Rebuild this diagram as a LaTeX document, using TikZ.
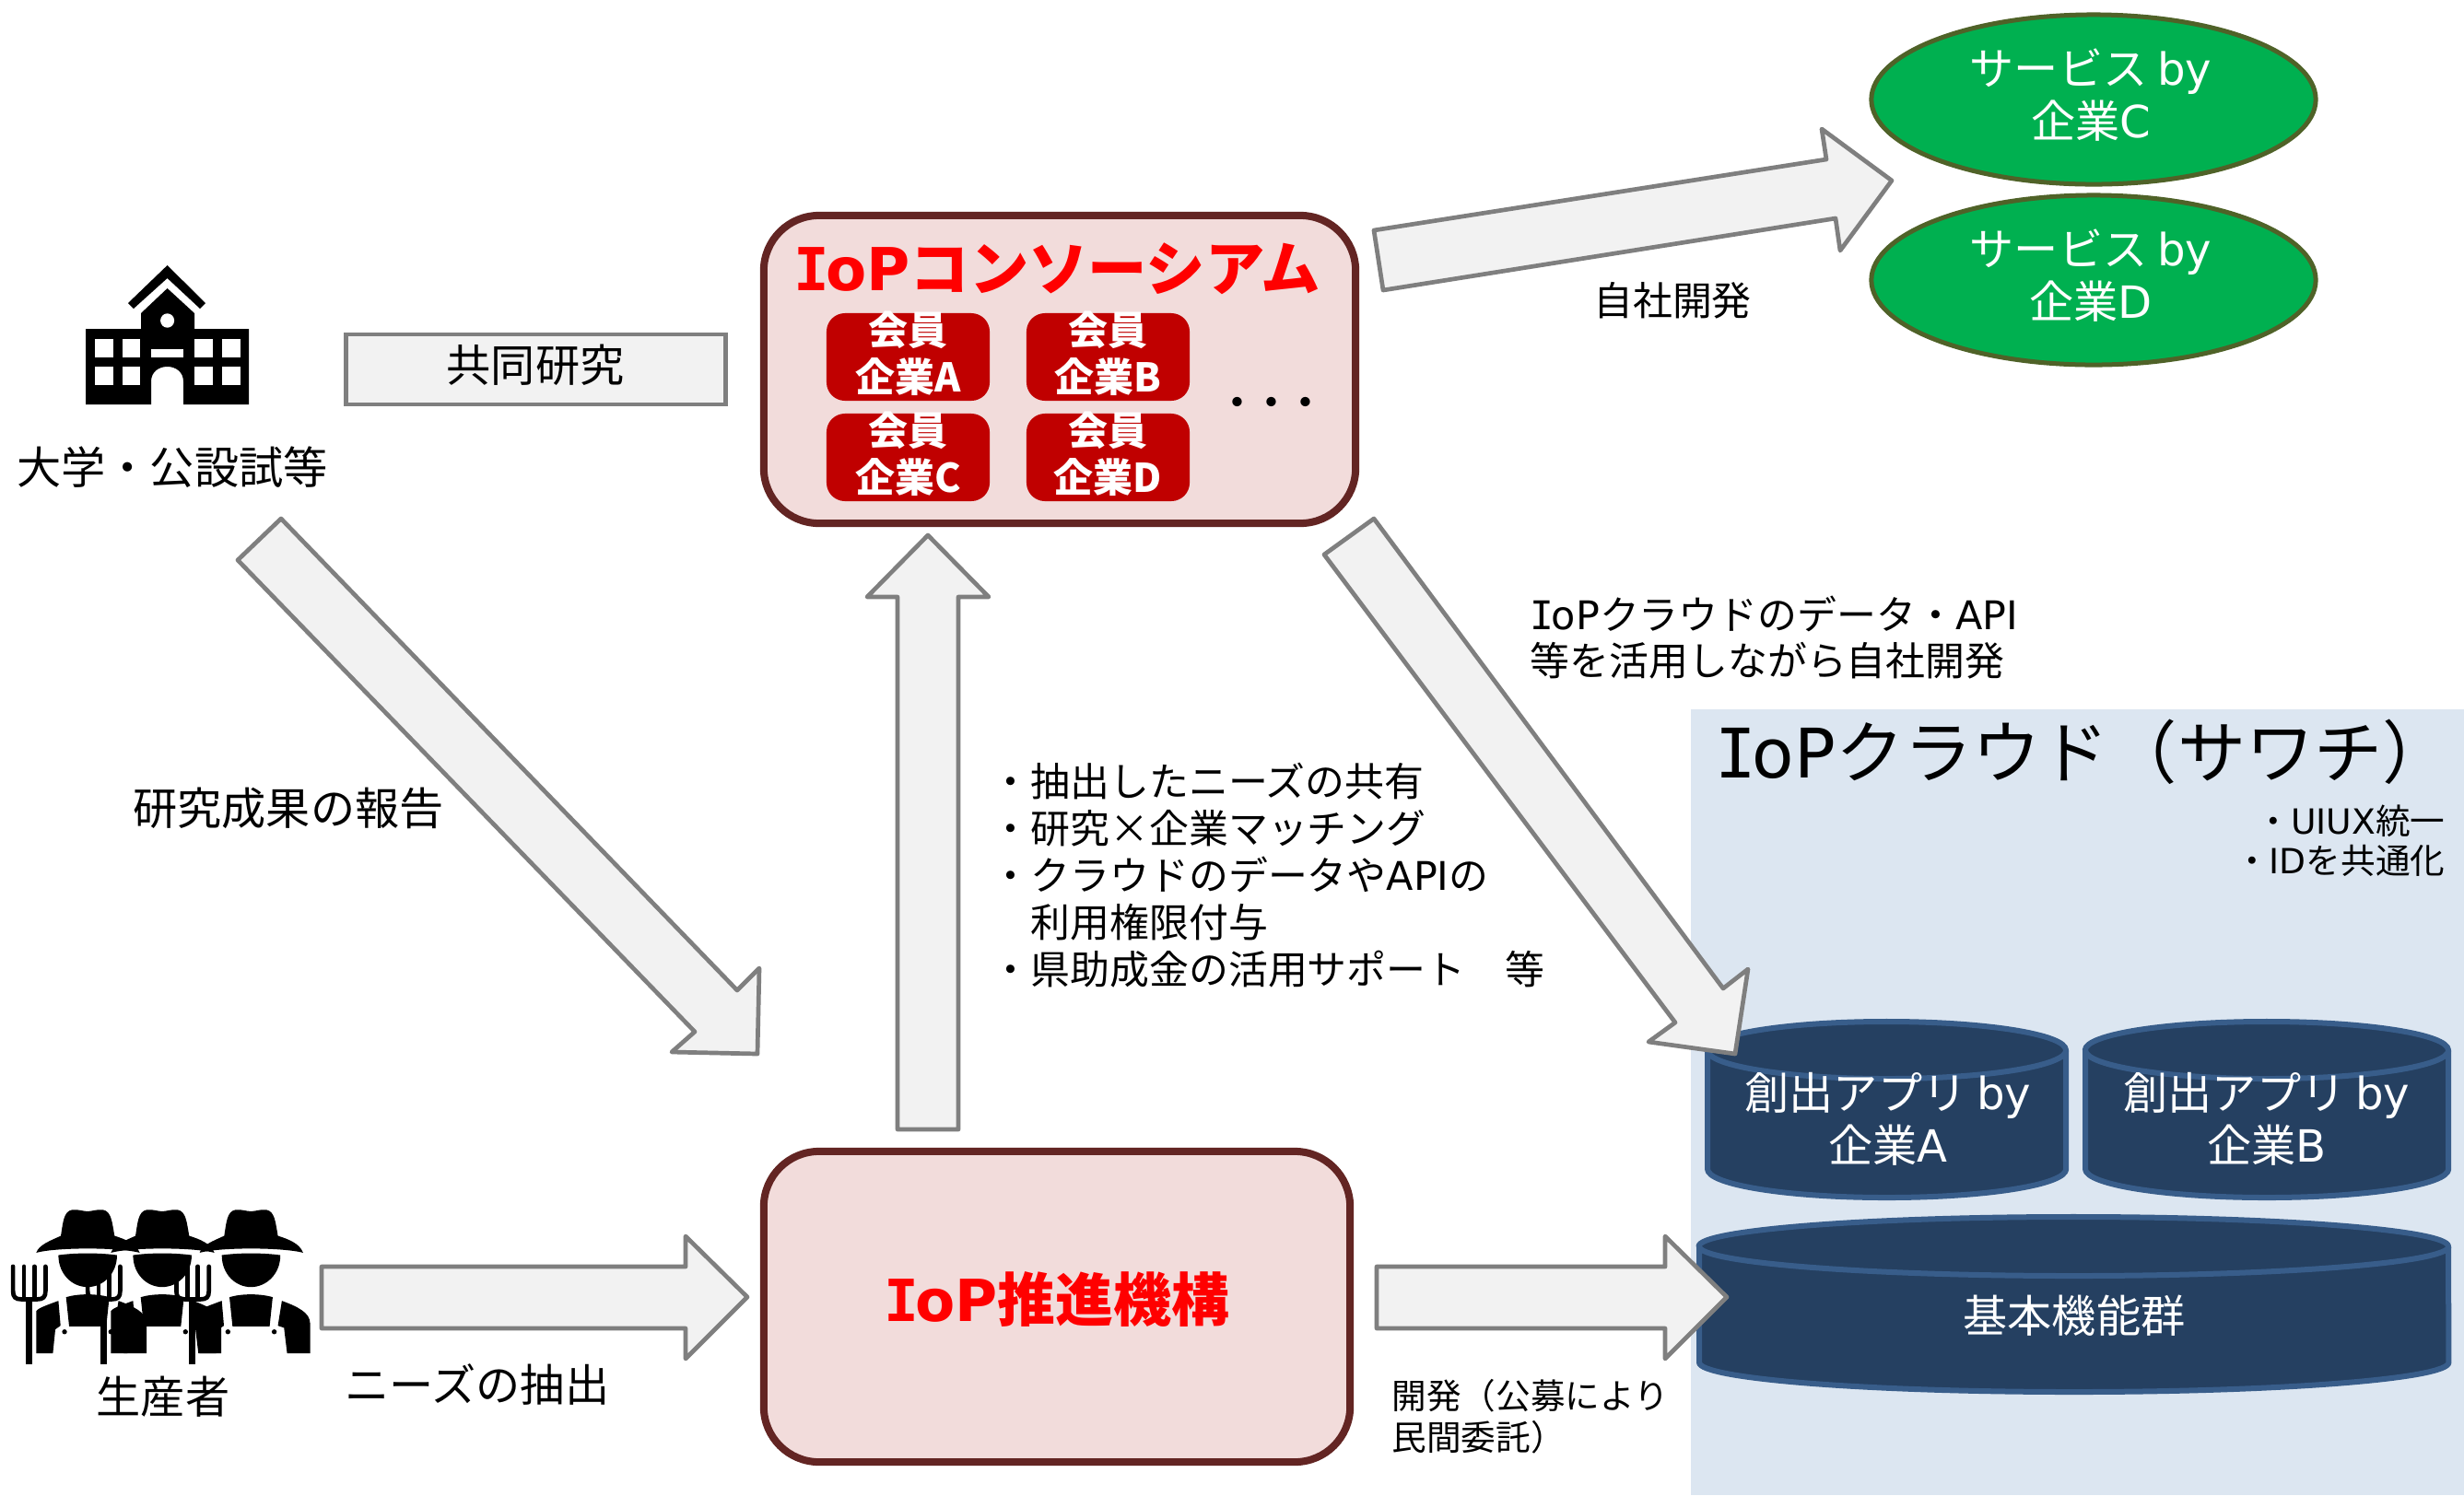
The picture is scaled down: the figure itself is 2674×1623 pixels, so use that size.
\documentclass[tikz,border=0pt]{standalone}
\usepackage{fontspec}
\usetikzlibrary{shapes.geometric}
\setmainfont{Noto Sans CJK JP}
\newfontfamily\latfont{DejaVu Sans}
\newfontfamily\monofont{DejaVu Sans Mono}
\newcommand{\lat}[1]{{\latfont #1}}
\newcommand{\IoPx}{{\monofont I\kern-0.06em}{\latfont oP}}
\newcommand{\fs}[2]{\fontsize{#1pt}{#2pt}\selectfont}
\definecolor{arrowgray}{HTML}{7F7F7F}
\definecolor{arrowfill}{HTML}{F2F2F2}
\definecolor{cloudbg}{HTML}{DCE6F1}
\definecolor{boxline}{HTML}{632523}
\definecolor{boxfill}{HTML}{F2DCDB}
\definecolor{memberred}{HTML}{C00000}
\definecolor{cylfill}{HTML}{254061}
\definecolor{cylline}{HTML}{385D8A}
\definecolor{svcfill}{HTML}{00B050}
\definecolor{svcline}{HTML}{4F6228}
\tikzset{
  blockarrow/.style={draw=arrowgray,fill=arrowfill,line width=0.047cm,line join=round},
  mainbox/.style={draw=boxline,fill=boxfill,line width=0.08cm,rounded corners=0.6cm,inner sep=0pt},
  memberbox/.style={fill=memberred,rounded corners=0.2cm,inner sep=0pt,minimum width=1.77cm,minimum height=0.95cm},
  membertext/.style={text=white,align=center,inner sep=0pt,font=\fs{12.2}{14.4}\bfseries},
  svc/.style={ellipse,draw=svcline,fill=svcfill,line width=0.05cm,inner sep=0pt,minimum width=4.82cm,minimum height=1.84cm},
  whitetext/.style={text=white,align=center,inner sep=0pt,font=\fs{13.7}{16.3}},
  label13/.style={text=black,align=center,inner sep=0pt,font=\fs{13.7}{16}},
  label12/.style={text=black,align=left,inner sep=0pt,font=\fs{12.2}{14.2}},
  cylbody/.style={draw=cylline,fill=cylfill,line width=0.06cm,line join=round},
}
% cylinder: left, right, top, bottom, ry(px), R(cm), r(cm)
\newcommand{\cyl}[7]{%
  \draw[cylbody] (#1,#3+#5) -- (#1,#4-#5) arc[start angle=180,end angle=360,x radius=#6cm,y radius=#7cm]
    -- (#2,#3+#5) arc[start angle=0,end angle=180,x radius=#6cm,y radius=#7cm] -- cycle;
  \draw[draw=cylline,line width=0.06cm] (#1,#3+#5) arc[start angle=180,end angle=360,x radius=#6cm,y radius=#7cm];
}
\newcommand{\farmer}[1]{%
  \begin{scope}[shift={(#1,1280)},x=0.0033333cm,y=-0.0033333cm]
    \fill (-167,240) .. controls (-160,215) and (-120,200) .. (-87,185)
      .. controls (-80,140) and (-78,105) .. (-50,100)
      .. controls (-30,98) and (-15,105) .. (0,105)
      .. controls (15,105) and (30,98) .. (50,100)
      .. controls (78,105) and (80,140) .. (88,185)
      .. controls (120,195) and (160,210) .. (170,240)
      .. controls (100,222) and (-100,222) .. (-167,240) -- cycle;
    \fill (-95,248) .. controls (-40,240) and (40,240) .. (96,248)
      .. controls (96,310) and (50,352) .. (0,352)
      .. controls (-50,352) and (-95,310) .. (-95,248) -- cycle;
    \fill (-70,385) .. controls (-30,373) and (30,373) .. (71,385) -- (61,480) -- (-60,480) -- cycle;
    \fill (101,397) .. controls (150,415) and (193,435) .. (193,470) -- (193,568) -- (118,568) -- (108,485) -- (88,478) -- cycle;
    \fill (-95,397) .. controls (-130,410) and (-160,420) .. (-167,430) -- (-167,568) -- (-113,568) -- (-105,490) -- (-88,478) -- cycle;
    \fill (-75,498) circle[radius=0.027cm];
    \fill (76,498) circle[radius=0.027cm];
    \draw[line width=0.047cm,line cap=round] (-243,285) -- (-243,365) .. controls (-243,385) and (-235,392) .. (-215,392)
      -- (-165,392) .. controls (-145,392) and (-137,385) .. (-137,365) -- (-137,285);
    \draw[line width=0.047cm,line cap=round] (-207,285) -- (-207,392);
    \draw[line width=0.047cm,line cap=round] (-173,285) -- (-173,392);
    \fill (-202,392) rectangle (-180,603);
  \end{scope}
}
\begin{document}
\begin{tikzpicture}[x=0.01cm,y=-0.01cm]
\useasboundingbox (0,0) rectangle (2674,1623);
\fill[white] (0,0) rectangle (2674,1623);
% cloud panel
\fill[cloudbg] (1835,770) rectangle (2674,1623);
\node[anchor=west,inner sep=0pt,font=\fs{21.1}{24}] (cloudtitle) at (1861,816) {\IoPx クラウド（サワチ）};
\node[anchor=east,align=right,inner sep=0pt,font=\fs{10.7}{12.2}] (cloudnote) at (2654,913) {・\lat{UIUX}統一\\・\lat{ID}を共通化};
% cylinders
\cyl{1853}{2242}{1109}{1300}{31}{1.945}{0.31}
\cyl{2263}{2657}{1109}{1300}{31}{1.97}{0.31}
\cyl{1844}{2657}{1321}{1511}{32}{4.065}{0.32}
\node[whitetext] (appa) at (2049,1215) {創出アプリ \lat{by}\\企業\lat{A}};
\node[whitetext] (appb) at (2460,1215) {創出アプリ \lat{by}\\企業\lat{B}};
\node[whitetext] (basic) at (2251,1428) {基本機能群};
% services
\node[svc] (svcc) at (2272,108) {};
\node[svc] (svcd) at (2272,304) {};
\node[whitetext] (svcct) at (2269,103) {サービス \lat{by}\\企業\lat{C}};
\node[whitetext] (svcdt) at (2269,299) {サービス \lat{by}\\企業\lat{D}};
% school icon
\fill (181.6,288) -- (223,329) -- (217,335) -- (181.6,302) -- (145,335) -- (139,329) -- cycle;
\fill[even odd rule] (181.6,313) -- (211,340) -- (211,357) -- (270,357) -- (270,439) -- (199,439) -- (199,414)
   .. controls (199,404) and (191,398) .. (181.6,398) .. controls (172,398) and (164,404) .. (164,414)
   -- (164,439) -- (93,439) -- (93,357) -- (153,357) -- (153,340) -- cycle;
\foreach \xa/\xb in {103/123,133/152,211/231,241/261}{
  \fill[white] (\xa,368) rectangle (\xb,388);
  \fill[white] (\xa,398) rectangle (\xb,418);
}
\fill[white] (164,379) rectangle (199,388);
\fill[white] (181.6,348) ellipse[x radius=0.075cm,y radius=0.077cm];
\node[label13] (univ) at (187,507) {大学・公設試等};
% farmers
\farmer{95}
\farmer{176}
\farmer{272.3}
\node[label13] (farmers) at (177,1516) {生産者};
% joint research box
\node[draw=arrowgray,fill=arrowfill,line width=0.047cm,minimum width=4.12cm,minimum height=0.76cm,inner sep=0pt,label13] (joint) at (581.5,401) {};
\node[label13] (jointt) at (581,396) {共同研究};
% consortium
\node[mainbox,minimum width=6.42cm,minimum height=3.34cm] (cons) at (1150,401) {};
\node[text=red,inner sep=0pt,font=\fs{18.3}{22}\bfseries] (constitle) at (1147,292) {\IoPx コンソーシアム};
\node[memberbox] (ma) at (985.5,387.5) {};
\node[memberbox] (mb) at (1202.5,387.5) {};
\node[memberbox] (mc) at (985.5,496.5) {};
\node[memberbox] (md) at (1202.5,496.5) {};
\node[membertext] (mat) at (985.5,384) {会員\\企業A};
\node[membertext] (mbt) at (1202.5,384) {会員\\企業B};
\node[membertext] (mct) at (985.5,493) {会員\\企業C};
\node[membertext] (mdt) at (1202.5,493) {会員\\企業D};
\node[inner sep=0pt,font=\fs{10.5}{12}\bfseries] (dots) at (1380,441) {・・・};
% promotion body
\node[mainbox,minimum width=6.36cm,minimum height=3.37cm] (body) at (1147,1418.5) {};
\node[text=red,inner sep=0pt,font=\fs{17.9}{21}\bfseries] (bodyt) at (1147,1410) {\IoPx 推進機構};
% block arrows
\draw[blockarrow] (1491,250) -- (1982,173) -- (1977,140) -- (2053,196) -- (1997,272) -- (1992,237) -- (1501,315) -- cycle;
\draw[blockarrow] (305,563) -- (800,1075) -- (824,1051) -- (822,1144) -- (729,1142) -- (754,1120) -- (258,608) -- cycle;
\draw[blockarrow] (974,1226) -- (974,648) -- (941,648) -- (1007,581) -- (1073,648) -- (1040,648) -- (1040,1226) -- cycle;
\draw[blockarrow] (1491,563) -- (1870,1073) -- (1897,1052) -- (1883,1144) -- (1789,1131) -- (1818,1110) -- (1437,602) -- cycle;
\draw[blockarrow] (349,1375) -- (744,1375) -- (744,1342) -- (811,1408) -- (744,1475) -- (744,1442) -- (349,1442) -- cycle;
\draw[blockarrow] (1494,1375) -- (1807,1375) -- (1807,1342) -- (1874,1408) -- (1807,1475) -- (1807,1442) -- (1494,1442) -- cycle;
% labels
\node[inner sep=0pt,font=\fs{12.2}{14}] (selfdev) at (1815,326) {自社開発};
\node[label12,anchor=west] (cloudlabel) at (1660,692) {\IoPx クラウドのデータ・\lat{API}\\等を活用しながら自社開発};
\node[label13] (report) at (313,877) {研究成果の報告};
\node[label12,anchor=west,font=\fs{12.2}{14.5}] (support) at (1075,950) {・抽出したニーズの共有\\・研究×企業マッチング\\・クラウドのデータや\lat{API}の\\　利用権限付与\\・県助成金の活用サポート　等};
\node[label13] (needs) at (518,1503) {ニーズの抽出};
\node[align=left,anchor=west,inner sep=0pt,font=\fs{10.7}{12.8}] (devlabel) at (1510,1538) {開発（公募により\\民間委託）};
\end{tikzpicture}
\end{document}
